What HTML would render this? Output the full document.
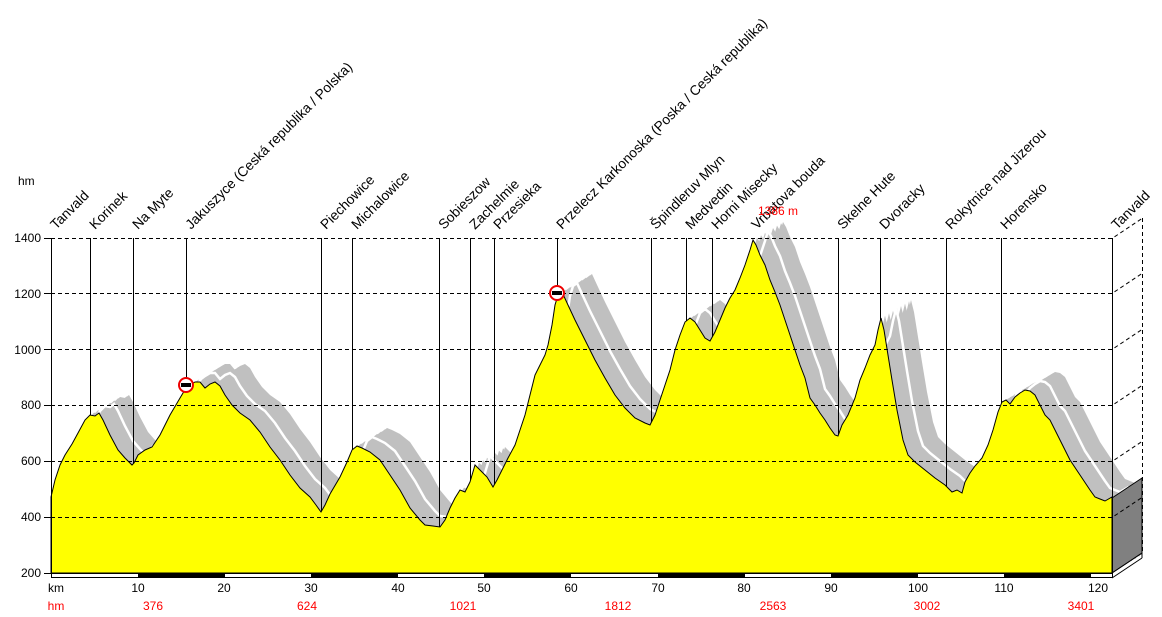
<!DOCTYPE html>
<html><head><meta charset="utf-8"><style>
html,body{margin:0;padding:0;background:#fff;}
svg{display:block;font-family:"Liberation Sans",sans-serif;}
</style></head><body>
<svg width="1162" height="617" viewBox="0 0 1162 617" xmlns="http://www.w3.org/2000/svg">
<defs>
<clipPath id="cp"><rect x="51" y="150" width="1091" height="423"/></clipPath>
<polygon id="prof" points="51,497 55,480 60,465 65,455 72,444 78,433 85,420 90,415 95,416 99,413 103,420 110,435 118,450 125,458 132,465 134,463 138,455 145,450 152,447 160,435 170,415 180,398 186,388 190,385 195,382 200,382 205,388 210,384 215,382 220,386 225,395 232,405 240,413 250,420 260,432 270,447 280,460 290,475 300,488 310,497 316,505 321,512 325,505 330,494 340,477 347,462 352,450 357,446 362,448 370,452 380,460 390,475 400,490 410,508 420,520 425,525 433,526 440,527 445,520 450,508 455,498 460,490 465,492 470,482 475,465 480,470 487,477 493,487 497,480 502,470 508,458 515,445 520,430 525,415 530,395 535,375 540,365 545,355 548,345 552,325 555,305 558,295 562,292 568,305 575,320 585,340 595,360 605,378 615,395 625,408 635,418 645,423 650,425 655,415 660,400 665,385 670,370 675,350 680,335 685,322 690,318 695,322 700,330 705,338 710,341 715,332 720,320 725,308 730,298 735,290 740,278 745,265 750,250 753,240 756,245 760,255 765,265 770,280 775,292 780,305 785,320 790,335 795,350 800,365 805,378 810,398 815,405 820,413 825,420 830,428 835,435 838,436 842,425 848,415 855,398 860,380 865,368 870,355 875,345 878,330 881,318 884,330 888,355 892,380 897,410 903,440 908,455 915,462 925,470 935,478 945,485 952,492 957,490 962,493 965,482 970,473 975,466 982,458 988,445 993,430 998,412 1002,402 1006,400 1010,404 1015,397 1020,393 1025,390 1030,391 1035,395 1040,405 1045,415 1050,420 1055,430 1060,440 1065,450 1070,460 1080,475 1090,490 1095,497 1100,499 1105,501 1112,497 1112,573 51,573"/>
</defs>

<g clip-path="url(#cp)" fill="#c0c0c0">
<use href="#prof" transform="translate(4,-2.4)"/>
<use href="#prof" transform="translate(8,-4.8)"/>
<use href="#prof" transform="translate(12,-7.2)"/>
<use href="#prof" transform="translate(16,-9.6)"/>
<use href="#prof" transform="translate(20,-12)"/>
<use href="#prof" transform="translate(24,-14.4)"/>
<use href="#prof" transform="translate(28,-16.8)"/>
<use href="#prof" transform="translate(30,-18)"/>
<use href="#prof" transform="translate(15,-9)" fill="none" stroke="#fff" stroke-width="2.5"/>
</g>

<g stroke="#000" stroke-width="1" shape-rendering="crispEdges">
<line x1="90.5" y1="238" x2="90.5" y2="573"/>
<line x1="133.5" y1="238" x2="133.5" y2="573"/>
<line x1="186.5" y1="238" x2="186.5" y2="380"/>
<line x1="321.5" y1="238" x2="321.5" y2="573"/>
<line x1="352.5" y1="238" x2="352.5" y2="573"/>
<line x1="439.5" y1="238" x2="439.5" y2="573"/>
<line x1="470.5" y1="238" x2="470.5" y2="573"/>
<line x1="494.5" y1="238" x2="494.5" y2="573"/>
<line x1="557.5" y1="238" x2="557.5" y2="290"/>
<line x1="651.5" y1="238" x2="651.5" y2="573"/>
<line x1="686.5" y1="238" x2="686.5" y2="573"/>
<line x1="712.5" y1="238" x2="712.5" y2="573"/>
<line x1="838.5" y1="238" x2="838.5" y2="573"/>
<line x1="880.5" y1="238" x2="880.5" y2="573"/>
<line x1="946.5" y1="238" x2="946.5" y2="573"/>
<line x1="1001.5" y1="238" x2="1001.5" y2="573"/>
</g>

<use href="#prof" fill="#ffff00" stroke="#000" stroke-width="1"/>

<polygon points="1112,498 1142,478 1142,553 1112,573" fill="#808080" stroke="#000" stroke-width="1"/>

<g stroke="#000" stroke-width="1" stroke-dasharray="4,3" fill="none">
<path d="M51,238.5H1112L1142,218.5"/>
<path d="M51,293.5H1112L1142,273.5"/>
<path d="M51,349.5H1112L1142,329.5"/>
<path d="M51,405.5H1112L1142,385.5"/>
<path d="M51,461.5H1112L1142,441.5"/>
<path d="M51,517.5H1112L1142,497.5"/>
<path d="M1142.5,218V553"/>
</g>

<g stroke="#000" stroke-width="1" shape-rendering="crispEdges">
<line x1="51.5" y1="238" x2="51.5" y2="578"/>
<line x1="1112.5" y1="238" x2="1112.5" y2="578"/>
<line x1="44" y1="238.5" x2="51" y2="238.5"/>
<line x1="44" y1="293.5" x2="51" y2="293.5"/>
<line x1="44" y1="349.5" x2="51" y2="349.5"/>
<line x1="44" y1="405.5" x2="51" y2="405.5"/>
<line x1="44" y1="461.5" x2="51" y2="461.5"/>
<line x1="44" y1="517.5" x2="51" y2="517.5"/>
<line x1="44" y1="573.5" x2="51" y2="573.5"/>
</g>
<g stroke="#000" stroke-width="1">
<line x1="1112" y1="573" x2="1142" y2="553"/>
<line x1="1112" y1="578" x2="1142" y2="558"/>
<line x1="1142" y1="553" x2="1142" y2="558"/>
</g>
<rect x="51.5" y="573.5" width="1061" height="4" fill="#fff" stroke="#000" stroke-width="1"/>
<g fill="#000">
<rect x="138" y="573" width="87" height="5"/>
<rect x="311" y="573" width="87" height="5"/>
<rect x="484" y="573" width="87" height="5"/>
<rect x="658" y="573" width="87" height="5"/>
<rect x="831" y="573" width="87" height="5"/>
<rect x="1004" y="573" width="87" height="5"/>
</g>

<g font-size="12" text-anchor="end" fill="#000">
<text x="41" y="242">1400</text>
<text x="41" y="298">1200</text>
<text x="41" y="354">1000</text>
<text x="41" y="409">800</text>
<text x="41" y="465">600</text>
<text x="41" y="521">400</text>
<text x="41" y="577">200</text>
</g>
<text x="18" y="185" font-size="12">hm</text>

<g font-size="12" text-anchor="middle" fill="#000">
<text x="56" y="592">km</text>
<text x="138" y="592">10</text>
<text x="224" y="592">20</text>
<text x="311" y="592">30</text>
<text x="398" y="592">40</text>
<text x="484" y="592">50</text>
<text x="571" y="592">60</text>
<text x="658" y="592">70</text>
<text x="744" y="592">80</text>
<text x="831" y="592">90</text>
<text x="918" y="592">100</text>
<text x="1004" y="592">110</text>
<text x="1098" y="592">120</text>
</g>
<g font-size="12" text-anchor="middle" fill="#ff0000">
<text x="56" y="610">hm</text>
<text x="153" y="610">376</text>
<text x="307" y="610">624</text>
<text x="463" y="610">1021</text>
<text x="618" y="610">1812</text>
<text x="773" y="610">2563</text>
<text x="927" y="610">3002</text>
<text x="1081" y="610">3401</text>
</g>

<g>
<circle cx="186" cy="385" r="7" fill="#fff" stroke="#e00" stroke-width="2"/>
<rect x="181" y="383" width="10" height="4" fill="#000"/>
<circle cx="557" cy="293" r="7" fill="#fff" stroke="#e00" stroke-width="2"/>
<rect x="552" y="291" width="10" height="4" fill="#000"/>
</g>

<g font-size="13.8" fill="#000">
<text transform="translate(56,230) rotate(-45)">Tanvald</text>
<text transform="translate(95,230) rotate(-45)">Korinek</text>
<text transform="translate(138,230) rotate(-45)">Na Myte</text>
<text transform="translate(191,230) rotate(-45)">Jakuszyce (Ceská republika / Polska)</text>
<text transform="translate(326,230) rotate(-45)">Piechowice</text>
<text transform="translate(357,230) rotate(-45)">Michalowice</text>
<text transform="translate(444,230) rotate(-45)">Sobieszow</text>
<text transform="translate(475,230) rotate(-45)">Zachelmie</text>
<text transform="translate(499,230) rotate(-45)">Przesieka</text>
<text transform="translate(562,230) rotate(-45)">Przelecz Karkonoska (Poska / Ceská republika)</text>
<text transform="translate(656,230) rotate(-45)">Špindleruv Mlyn</text>
<text transform="translate(691,230) rotate(-45)">Medvedin</text>
<text transform="translate(717,230) rotate(-45)">Horni Misecky</text>
<text transform="translate(757,230) rotate(-45)">Vrbatova bouda</text>
<text transform="translate(843,230) rotate(-45)">Skelne Hute</text>
<text transform="translate(885,230) rotate(-45)">Dvoracky</text>
<text transform="translate(951,230) rotate(-45)">Rokytnice nad Jizerou</text>
<text transform="translate(1006,230) rotate(-45)">Horensko</text>
<text transform="translate(1117,230) rotate(-45)">Tanvald</text>
</g>
<text x="758" y="215" font-size="12" fill="#ff0000">1386 m</text>
</svg>
</body></html>
